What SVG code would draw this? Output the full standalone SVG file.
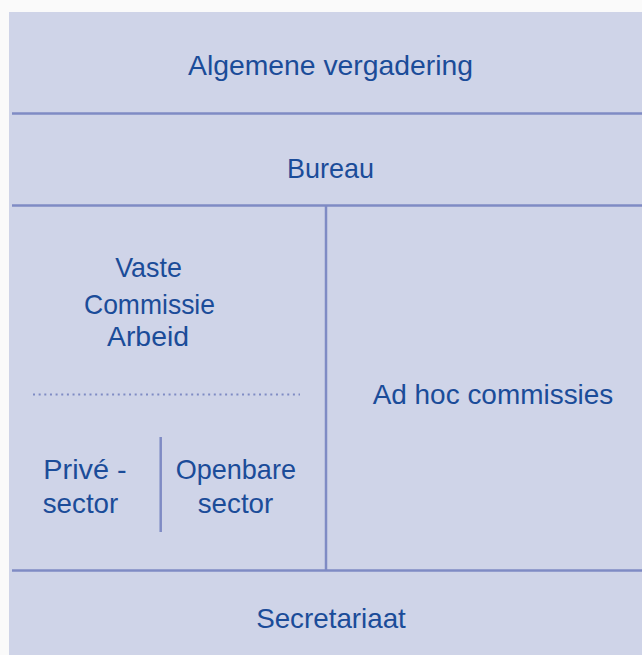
<svg xmlns="http://www.w3.org/2000/svg" width="642" height="655" viewBox="0 0 642 655">
  <style>
    .lbl { font-family: "Liberation Sans", Arial, sans-serif; font-size: 28.5px; fill: #1b4c99; }
    .mid { text-anchor: middle; }
    .rule { stroke: #7f8bc4; stroke-width: 2.5; fill: none; }
    .dots { stroke: #7f8bc4; stroke-width: 2; stroke-dasharray: 2 3.65; fill: none; }
  </style>
  <rect x="0" y="0" width="642" height="655" fill="#fafafa"/>
  <rect id="panel" x="9" y="12" width="633" height="643" fill="#cfd4e8"/>

  <g id="connectors">
    <line class="rule" x1="12" y1="113.5" x2="642" y2="113.5"/>
    <line class="rule" x1="12" y1="205.5" x2="642" y2="205.5"/>
    <line class="rule" x1="12" y1="570.5" x2="642" y2="570.5"/>
    <line class="rule" x1="326" y1="205.5" x2="326" y2="570.5"/>
    <line class="dots" x1="33" y1="394.5" x2="300" y2="394.5"/>
    <line class="rule" x1="160.7" y1="437" x2="160.7" y2="532"/>
  </g>

  <g id="algemene-vergadering">
    <text class="lbl mid" x="330.5" y="75" textLength="285" lengthAdjust="spacingAndGlyphs">Algemene vergadering</text>
  </g>
  <g id="bureau">
    <text class="lbl mid" x="330.5" y="178" textLength="87" lengthAdjust="spacingAndGlyphs">Bureau</text>
  </g>
  <g id="vaste-commissie-arbeid">
    <text class="lbl mid" x="148.5" y="277" textLength="66.7" lengthAdjust="spacingAndGlyphs">Vaste</text>
    <text class="lbl mid" x="149.5" y="313.5" textLength="131" lengthAdjust="spacingAndGlyphs">Commissie</text>
    <text class="lbl mid" x="148" y="346" textLength="82" lengthAdjust="spacingAndGlyphs">Arbeid</text>
  </g>
  <g id="prive-sector">
    <text class="lbl" x="43.3" y="478.5" textLength="83.4" lengthAdjust="spacingAndGlyphs">Privé -</text>
    <text class="lbl" x="42.7" y="513" textLength="75.6" lengthAdjust="spacingAndGlyphs">sector</text>
  </g>
  <g id="openbare-sector">
    <text class="lbl mid" x="235.8" y="478.5" textLength="120.3" lengthAdjust="spacingAndGlyphs">Openbare</text>
    <text class="lbl mid" x="235.5" y="513" textLength="75.6" lengthAdjust="spacingAndGlyphs">sector</text>
  </g>
  <g id="ad-hoc-commissies">
    <text class="lbl mid" x="493" y="403.5" textLength="240.7" lengthAdjust="spacingAndGlyphs">Ad hoc commissies</text>
  </g>
  <g id="secretariaat">
    <text class="lbl mid" x="331" y="627.5" textLength="149.7" lengthAdjust="spacingAndGlyphs">Secretariaat</text>
  </g>
</svg>
